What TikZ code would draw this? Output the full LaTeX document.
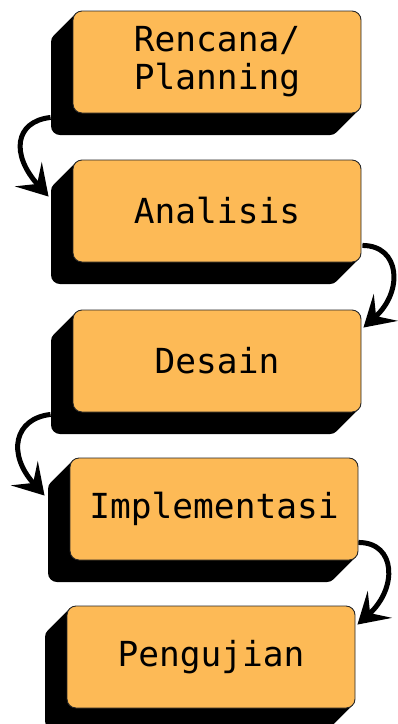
\documentclass[tikz,border=0pt]{standalone}
\usepackage{fontspec}
\newfontfamily\stepfont{DejaVu Sans Mono}
\usetikzlibrary{arrows.meta,calc}
\definecolor{mango}{RGB}{253,186,86}
\definecolor{ink}{RGB}{0,0,0}
\tikzset{
  >={Stealth[length=30pt,width=36pt,inset=13pt]},
  face/.style={draw=ink!85,fill=mango,rounded corners=9pt,line width=0.9pt,
    minimum width=288pt,minimum height=102pt,inner sep=0pt,align=center,
    font=\stepfont\fontsize{34.5}{38}\selectfont},
  extrude/.style={fill=ink,rounded corners=9pt},
  curl/.style={->,line width=5pt,draw=ink},
}
\begin{document}
\begin{tikzpicture}[x=1pt,y=-1pt]
  \useasboundingbox (0,0) rectangle (398,724);
  % steps, each with its black 3d side
  \foreach \t/\x/\y [count=\i] in {
    {Rencana/\\Planning}/217/62,
    Analisis/217/211,
    Desain/217/361,
    Implementasi/214/509,
    Pengujian/211/657}
  {
    \foreach \k in {1,...,22}
      \path[extrude] (\x-144-\k,\y-51+\k) rectangle (\x+144-\k,\y+51+\k);
    \node[face] (b\i) at (\x,\y) {\t};
  }
  % curved links
  \draw[curl] ($(b1.south west)+(-22,4)$) .. controls +(-36,4) and +(-38,-42) .. ($(b2.north west)+(-24,37)$);
  \draw[curl] ($(b2.south east)+(1,-17)$) .. controls +(38,0) and +(40,-36) .. ($(b3.north east)+(2,18)$);
  \draw[curl] ($(b3.south west)+(-22,2)$) .. controls +(-36,4) and +(-38,-42) .. ($(b4.north west)+(-25,38)$);
  \draw[curl] ($(b4.south east)+(0,-18)$) .. controls +(38,0) and +(40,-36) .. ($(b5.north east)+(2,19)$);
\end{tikzpicture}
\end{document}
